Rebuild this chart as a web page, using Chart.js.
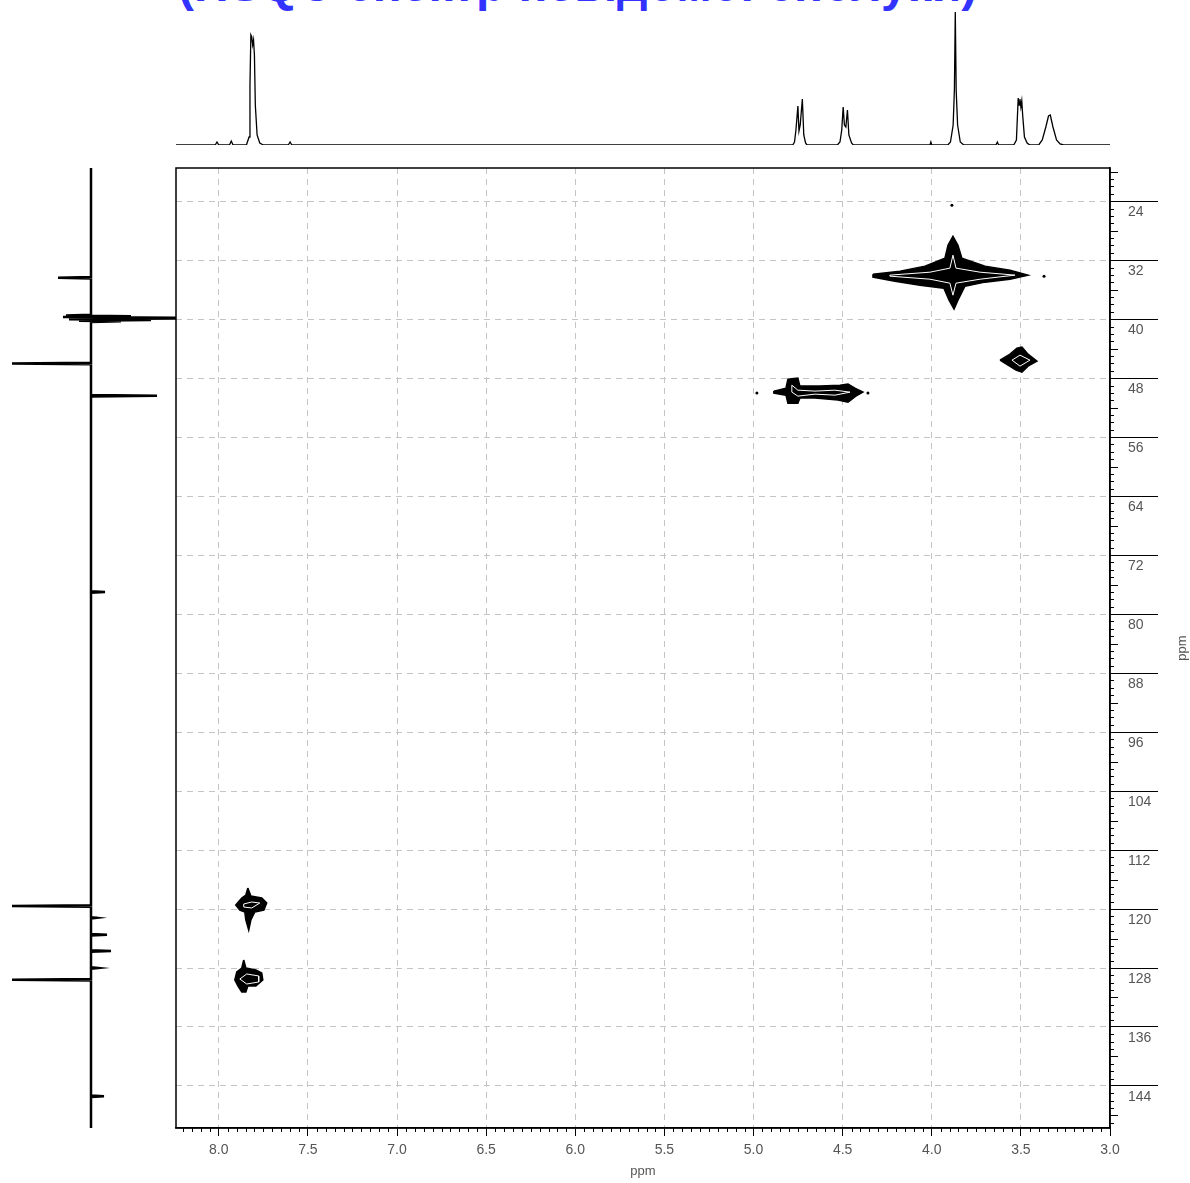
<!DOCTYPE html>
<html lang="uk">
<head>
  <meta charset="UTF-8">
  <title>HSQC</title>
  <script src="https://cdn.jsdelivr.net/npm/chart.js@4.4.1/dist/chart.umd.min.js"></script>
  <style>
    body {
      margin: 0;
      background: #fff;
      width: 1190px;
      height: 1183px;
      overflow: hidden;
      position: relative;
      font-family: "Liberation Sans", Arial, sans-serif;
    }
    #title {
      position: absolute;
      left: 178px;
      top: -39px;
      font-weight: bold;
      font-size: 48px;
      line-height: 48px;
      color: #3333ff;
      white-space: nowrap;
    }
    canvas { position: absolute; }
  </style>
</head>
<body>
<div id="title">(HSQC спектр невідомої сполуки)</div>
<canvas id="topSpec" width="934" height="160" style="left:176px;top:0"></canvas>
<canvas id="leftSpec" width="176" height="1023" style="left:0;top:160px"></canvas>
<canvas id="hsqc" width="1020" height="1023" style="left:170px;top:160px"></canvas>

<script>
// axis ranges (ppm)
var H_MIN = 3.0, H_MAX = 8.24;
var C_MIN = 19.5, C_MAX = 149.7;

// 1H projection (top trace)
var hShift = [8.24, 8.02, 8.01, 8.00, 7.94, 7.93, 7.92, 7.845, 7.83, 7.825, 7.82, 7.815, 7.81, 7.805, 7.80, 7.795, 7.785, 7.77, 7.75, 7.61, 7.60, 7.59,
  4.78, 4.77, 4.762, 4.751, 4.745, 4.738, 4.726, 4.718, 4.708, 4.70,
  4.53, 4.515, 4.505, 4.497, 4.49, 4.482, 4.473, 4.465, 4.45, 4.44,
  4.01, 4.005, 4.00, 3.91, 3.895, 3.88, 3.873, 3.868, 3.863, 3.855, 3.84, 3.82,
  3.64, 3.632, 3.625, 3.54, 3.525, 3.515, 3.51, 3.505, 3.50, 3.495, 3.49, 3.48, 3.465, 3.45,
  3.40, 3.38, 3.36, 3.345, 3.335, 3.32, 3.30, 3.28, 3.26, 3.0];
var hIntensity = [0, 0, 3, 0, 0, 4, 0, 0, 8, 60, 110, 108, 100, 105, 90, 40, 10, 2, 0, 0, 3, 0,
  0, 3, 15, 39, 14, 20, 46, 10, 2, 0,
  0, 3, 15, 38, 20, 18, 35, 10, 2, 0,
  0, 3, 0, 0, 3, 20, 55, 133, 55, 20, 3, 0,
  0, 3, 0, 0, 5, 47, 40, 46, 38, 44, 30, 8, 2, 0,
  0, 5, 18, 29, 30, 18, 5, 1, 0, 0];

// 13C projection (left trace); positive = drawn to the left
var cShift = [19.5, 34.3, 34.4, 34.5, 39.4, 39.5, 39.6, 39.7, 39.8, 39.9, 40.0, 40.1, 40.2, 40.3, 40.4,
  45.9, 46.0, 46.1, 50.3, 50.4, 50.5, 76.9, 77.0, 77.1, 119.5, 119.6, 119.7, 121.1, 121.2, 121.3,
  123.4, 123.5, 123.6, 125.6, 125.7, 125.8, 127.9, 128.0, 128.1, 129.5, 129.6, 129.7, 145.3, 145.4, 145.5, 149.7];
var cIntensity = [0, 0, 33, 0, 0, 25, -40, 28, -90, -90, 22, -60, 12, -30, 0,
  0, 79, 0, 0, -66, 0, 0, -14, 0, 0, 79, 0, 0, -6, 0,
  0, -16, 0, 0, -20, 0, 0, -7, 0, 0, 79, 0, 0, -13, 0, 0];

// cross peak contours, [1H ppm, 13C ppm]
var peakA = [[4.330,33.90],[4.178,33.49],[4.038,32.81],[3.926,31.73],[3.909,29.97],[3.881,28.75],[3.853,29.97],[3.831,31.73],[3.701,32.81],[3.561,33.36],[3.460,34.03],[3.561,34.58],[3.701,34.98],[3.814,35.53],[3.853,37.42],[3.875,38.64],[3.903,37.42],[3.932,35.80],[4.066,35.39],[4.207,34.85],[4.330,34.31],[4.330,33.90]];
var peakAin = [[4.235,34.03],[4.010,33.63],[3.898,33.08],[3.881,31.32],[3.864,33.08],[3.729,33.63],[3.533,34.03],[3.729,34.58],[3.864,35.12],[3.881,36.75],[3.898,35.12],[4.010,34.58],[4.235,34.17],[4.235,34.03]];
var peakB = [[3.617,45.56],[3.561,44.75],[3.522,43.93],[3.494,43.80],[3.460,44.75],[3.410,45.69],[3.460,46.37],[3.494,47.19],[3.527,46.92],[3.572,46.24],[3.617,45.56]];
var peakBin = [[3.550,45.56],[3.505,44.88],[3.449,45.56],[3.505,46.37],[3.550,45.56]];
var peakC = [[4.886,49.76],[4.818,49.36],[4.807,48.14],[4.751,48.00],[4.740,49.08],[4.627,49.08],[4.515,48.95],[4.470,48.81],[4.431,49.36],[4.386,49.90],[4.426,50.44],[4.470,51.25],[4.526,50.98],[4.655,50.71],[4.740,50.71],[4.751,51.39],[4.807,51.39],[4.818,50.31],[4.886,50.03],[4.886,49.76]];
var peakCin = [[4.785,48.95],[4.751,49.63],[4.655,49.76],[4.543,49.63],[4.459,49.90],[4.543,50.31],[4.655,50.17],[4.751,50.44],[4.785,49.90],[4.785,48.95]];
var peakD = [[7.837,117.15],[7.820,118.24],[7.759,118.51],[7.731,119.19],[7.747,120.14],[7.798,120.41],[7.820,121.49],[7.832,122.85],[7.848,121.49],[7.854,120.41],[7.882,120.14],[7.905,119.46],[7.871,118.51],[7.848,118.10],[7.837,117.15]];
var peakDin = [[7.860,119.32],[7.815,119.05],[7.770,119.19],[7.815,119.86],[7.860,119.73],[7.860,119.32]];
var peakE = [[7.860,126.92],[7.848,128.00],[7.792,128.27],[7.759,128.68],[7.753,129.63],[7.792,130.44],[7.837,130.44],[7.848,131.25],[7.871,131.25],[7.893,130.44],[7.910,129.63],[7.899,128.54],[7.871,128.00],[7.860,126.92]];
var peakEin = [[7.882,129.49],[7.843,128.81],[7.776,129.08],[7.776,129.90],[7.843,130.17],[7.882,129.49]];
var specks = [[4.981,50.03],[4.358,50.03],[3.887,24.54],[3.370,34.17]];

Chart.defaults.font.family = '"Liberation Sans", Arial, sans-serif';
Chart.defaults.animation = false;

function toXY(arr) {
  return arr.map(function(p) { return {x: p[0], y: p[1]}; });
}

// top 1H trace
new Chart(document.getElementById('topSpec'), {
  type: 'line',
  data: {
    datasets: [{
      data: hShift.map(function(v, i) { return {x: v, y: hIntensity[i]}; }),
      borderColor: '#000',
      borderWidth: 1.3,
      pointRadius: 0,
      tension: 0
    }]
  },
  options: {
    responsive: false,
    layout: { padding: { bottom: 15 } },
    plugins: { legend: { display: false }, tooltip: { enabled: false } },
    scales: {
      x: { type: 'linear', reverse: true, min: H_MIN, max: H_MAX, display: false },
      y: { type: 'linear', min: 0, max: 145, display: false }
    }
  }
});

// left 13C trace
new Chart(document.getElementById('leftSpec'), {
  type: 'line',
  data: {
    datasets: [{
      data: cShift.map(function(v, i) { return {x: cIntensity[i], y: v}; }),
      borderColor: '#000',
      borderWidth: 2.5,
      pointRadius: 0,
      tension: 0
    }]
  },
  options: {
    responsive: false,
    layout: { padding: { top: 8, bottom: 55 } },
    plugins: { legend: { display: false }, tooltip: { enabled: false } },
    scales: {
      x: { type: 'linear', reverse: true, min: -85, max: 91, display: false },
      y: { type: 'linear', reverse: true, min: C_MIN, max: C_MAX, display: false }
    }
  }
});

// box, minor ticks and rotated y title
var frame = {
  id: 'frame',
  afterDraw: function(chart) {
    var ctx = chart.ctx, a = chart.chartArea;
    var sx = chart.scales.x, sy = chart.scales.y;
    ctx.save();
    ctx.strokeStyle = '#000';
    ctx.lineWidth = 1.5;
    ctx.strokeRect(a.left, a.top, a.right - a.left, a.bottom - a.top);

    ctx.lineWidth = 1;
    ctx.beginPath();
    for (var i = 60; i <= 164; i++) {
      if (i % 10 === 0) continue;
      var px = Math.round(sx.getPixelForValue(i * 0.05)) + 0.5;
      ctx.moveTo(px, a.bottom);
      ctx.lineTo(px, a.bottom + 4);
    }
    for (var n = 20; n <= 149; n++) {
      if (n % 8 === 0) continue;
      var py = Math.round(sy.getPixelForValue(n)) + 0.5;
      ctx.moveTo(a.right, py);
      ctx.lineTo(a.right + (n % 4 === 0 ? 8 : 4), py);
    }
    ctx.stroke();

    ctx.translate(1012, (a.top + a.bottom) / 2);
    ctx.rotate(-Math.PI / 2);
    ctx.fillStyle = '#555';
    ctx.font = '13px "Liberation Sans", Arial, sans-serif';
    ctx.textAlign = 'center';
    ctx.textBaseline = 'middle';
    ctx.fillText('ppm', 0, 0);
    ctx.restore();
  }
};

function outer(arr) {
  return { data: toXY(arr), borderColor: '#000', borderWidth: 1.5, backgroundColor: '#000',
           fill: 'shape', pointRadius: 0, tension: 0, order: 2 };
}
function inner(arr) {
  return { data: toXY(arr), borderColor: '#fff', borderWidth: 1, fill: false,
           pointRadius: 0, tension: 0, order: 1 };
}

new Chart(document.getElementById('hsqc'), {
  type: 'line',
  data: {
    datasets: [
      outer(peakA), inner(peakAin),
      outer(peakB), inner(peakBin),
      outer(peakC), inner(peakCin),
      outer(peakD), inner(peakDin),
      outer(peakE), inner(peakEin),
      { data: toXY(specks), showLine: false, pointRadius: 1.5, pointBackgroundColor: '#000',
        pointBorderWidth: 0, order: 0 }
    ]
  },
  options: {
    responsive: false,
    layout: { padding: { top: 8, left: 6, right: 0, bottom: 0 } },
    plugins: { legend: { display: false }, tooltip: { enabled: false } },
    scales: {
      x: {
        type: 'linear', reverse: true, min: H_MIN, max: H_MAX, position: 'bottom',
        grid: { color: '#c4c4c4', lineWidth: 1, tickColor: '#000', tickLength: 8, tickBorderDash: [] },
        border: { display: true, color: '#000', width: 1.5, dash: [6, 5] },
        ticks: {
          stepSize: 0.5, includeBounds: false, autoSkip: false, maxRotation: 0,
          color: '#555', font: { size: 14 }, padding: 6,
          callback: function(v) { return Number(v).toFixed(1); }
        },
        title: { display: true, text: 'ppm', color: '#555', font: { size: 13 }, padding: { top: 0, bottom: 4 } },
        afterFit: function(s) { s.height = 55; }
      },
      y: {
        type: 'linear', reverse: true, min: C_MIN, max: C_MAX, position: 'right',
        grid: { color: '#c4c4c4', lineWidth: 1, tickColor: '#000', tickLength: 48, tickBorderDash: [] },
        border: { display: true, color: '#000', width: 1.5, dash: [6, 5] },
        ticks: {
          stepSize: 8, includeBounds: false, autoSkip: false,
          color: '#555', font: { size: 14 }, padding: -30, labelOffset: 11,
          callback: function(v) { return String(Math.round(v)); }
        },
        afterFit: function(s) { s.width = 80; }
      }
    }
  },
  plugins: [frame]
});
</script>
</body>
</html>
